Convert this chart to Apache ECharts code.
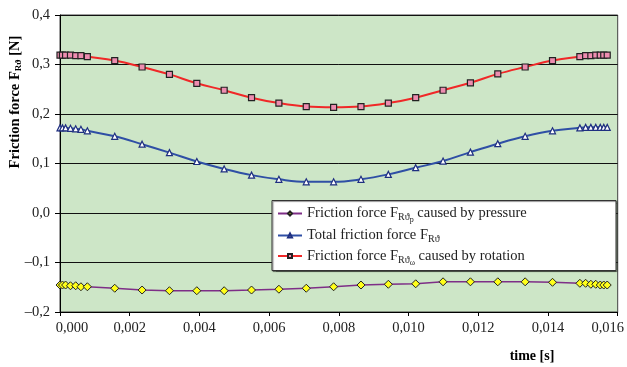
<!DOCTYPE html>
<html>
<head>
<meta charset="utf-8">
<script src="https://cdn.jsdelivr.net/npm/echarts@6/dist/echarts.min.js"></script>
<style>html,body{margin:0;padding:0;background:#fff;}#c{width:627px;height:367px;}</style>
</head>
<body>
<div id="c"></div>
<script>
// time [s]
const times = [0, 0.00007, 0.00016, 0.0003, 0.00045, 0.0006, 0.000785, 0.00157, 0.002355, 0.00314, 0.003925, 0.00471, 0.005495, 0.00628, 0.007065, 0.00785, 0.008635, 0.00942, 0.010205, 0.01099, 0.011775, 0.01256, 0.013345, 0.01413, 0.014915, 0.01508, 0.01523, 0.01537, 0.0155, 0.0156, 0.0157];
// Friction force caused by pressure [N]
const pressure = [-0.1455, -0.1455, -0.1455, -0.147, -0.147, -0.149, -0.149, -0.152, -0.1556, -0.157, -0.157, -0.157, -0.1556, -0.154, -0.152, -0.149, -0.1455, -0.144, -0.143, -0.139, -0.139, -0.139, -0.139, -0.140, -0.142, -0.142, -0.144, -0.144, -0.1455, -0.1455, -0.1455];
// Total friction force [N]
const total = [0.172, 0.172, 0.172, 0.171, 0.170, 0.169, 0.166, 0.155, 0.139, 0.122, 0.104, 0.089, 0.0765, 0.068, 0.063, 0.063, 0.068, 0.078, 0.0915, 0.105, 0.123, 0.140, 0.155, 0.166, 0.172, 0.173, 0.173, 0.173, 0.173, 0.173, 0.173];
// Friction force caused by rotation [N]
const rotation = [0.319, 0.319, 0.319, 0.319, 0.318, 0.318, 0.316, 0.308, 0.295, 0.280, 0.262, 0.248, 0.233, 0.222, 0.215, 0.2135, 0.215, 0.222, 0.233, 0.248, 0.263, 0.281, 0.295, 0.308, 0.316, 0.318, 0.318, 0.319, 0.319, 0.319, 0.319];

const seriesNames = ['Friction force FRϑp caused by pressure', 'Total friction force FRϑ', 'Friction force FRϑω caused by rotation'];
const legendLabels = [
  '{n|Friction force F}{s|Rϑ}{ss|p}{n| caused by pressure}',
  '{n|Total friction force F}{s|Rϑ}',
  '{n|Friction force F}{s|Rϑ}{ss|ω}{n| caused by rotation}'
];
const yTitle = '{n|Friction force F}{s|Rϑ}{n| [N]}';
const xTitle = 'time [s]';

const FONT = '"Liberation Serif","Times New Roman",serif';

function pairs(ys) { return times.map((t, i) => [t, ys[i]]); }

const chart = echarts.init(document.getElementById('c'), null, {renderer: 'canvas'});
chart.setOption({
  animation: false,
  backgroundColor: '#fff',
  grid: {left: 60, right: 7, top: 15, bottom: 55, show: true, backgroundColor: '#CDE6C7', borderColor: '#404040', borderWidth: 1},
  xAxis: {
    type: 'value', min: 0, max: 0.016, interval: 0.002,
    axisLine: {show: true, onZero: false, lineStyle: {color: '#000', width: 1}},
    axisTick: {show: true, length: 4, lineStyle: {color: '#000'}},
    splitLine: {show: false},
    axisLabel: {
      color: '#222', fontFamily: FONT, fontSize: 14.5, margin: 9,
      formatter: function (v) {
        const s = v.toFixed(3).replace('.', ',');
        if (Math.abs(v) < 1e-9) return '{a|' + s + '}';
        if (Math.abs(v - 0.016) < 1e-9) return '{b|' + s + '}';
        return s;
      },
      rich: {
        a: {fontFamily: FONT, fontSize: 14.5, color: '#222', padding: [0, 0, 0, 24]},
        b: {fontFamily: FONT, fontSize: 14.5, color: '#222', padding: [0, 20, 0, 0]}
      }
    }
  },
  yAxis: {
    type: 'value', min: -0.2, max: 0.4, interval: 0.1,
    axisLine: {show: true, onZero: false, lineStyle: {color: '#000', width: 1}},
    axisTick: {show: true, length: 5, lineStyle: {color: '#000'}},
    splitLine: {show: true, lineStyle: {color: '#111', width: 1}},
    axisLabel: {
      color: '#222', fontFamily: FONT, fontSize: 14.5, margin: 10,
      formatter: function (v) { return v.toFixed(1).replace('.', ',').replace('-', '\u2013'); }
    }
  },
  legend: {
    orient: 'vertical', left: 277, top: 206, itemWidth: 24, itemHeight: 5, itemGap: 4,
    padding: 0, z: 10,
    data: seriesNames,
    formatter: function (name) { return legendLabels[seriesNames.indexOf(name)]; },
    textStyle: {
      fontFamily: FONT, fontSize: 14.5, color: '#222', padding: [0, 0, 0, 0],
      rich: {
        n: {fontFamily: FONT, fontSize: 14.5, color: '#222', lineHeight: 18},
        s: {fontFamily: FONT, fontSize: 10, color: '#222', padding: [8, 0, 0, 0]},
        ss: {fontFamily: FONT, fontSize: 8, color: '#222', padding: [13, 0, 0, 0]}
      }
    }
  },
  graphic: [
    {type: 'rect', z: 5, shape: {x: 272, y: 200.5, width: 344, height: 70},
     style: {fill: '#fff', stroke: '#333', lineWidth: 1, shadowColor: 'rgba(0,0,0,0.45)', shadowOffsetX: 1, shadowOffsetY: 1, shadowBlur: 1}},
    {type: 'text', z: 5, x: 15, y: 102, rotation: Math.PI / 2,
     style: {text: yTitle, align: 'center', verticalAlign: 'middle', fill: '#000',
       font: 'bold 14px ' + FONT,
       rich: {
         n: {fontFamily: FONT, fontSize: 14.5, fontWeight: 'bold', fill: '#000', lineHeight: 18},
         s: {fontFamily: FONT, fontSize: 9, fontWeight: 'bold', fill: '#000', padding: [8, 0, 0, 0]}
       }}},
    {type: 'text', z: 5, x: 532, y: 356,
     style: {text: xTitle, align: 'center', verticalAlign: 'middle', fill: '#000', font: 'bold 14px ' + FONT}}
  ],
  series: [
    {name: seriesNames[0], type: 'line', data: pairs(pressure), smooth: false,
     symbol: 'diamond', symbolSize: 8,
     lineStyle: {color: '#7E2E87', width: 1.5},
     itemStyle: {color: '#FFFF1A', borderColor: '#222', borderWidth: 1}, z: 3},
    {name: seriesNames[1], type: 'line', data: pairs(total), smooth: 0.4,
     symbol: 'triangle', symbolSize: 6,
     lineStyle: {color: '#2F4FA5', width: 2},
     itemStyle: {color: '#fff', borderColor: '#1F2F80', borderWidth: 1.2}, z: 3},
    {name: seriesNames[2], type: 'line', data: pairs(rotation), smooth: 0.4,
     symbol: 'rect', symbolSize: 6,
     lineStyle: {color: '#F02828', width: 2},
     itemStyle: {color: '#EE8DB0', borderColor: '#222', borderWidth: 1.2}, z: 3}
  ]
});
</script>
</body>
</html>
